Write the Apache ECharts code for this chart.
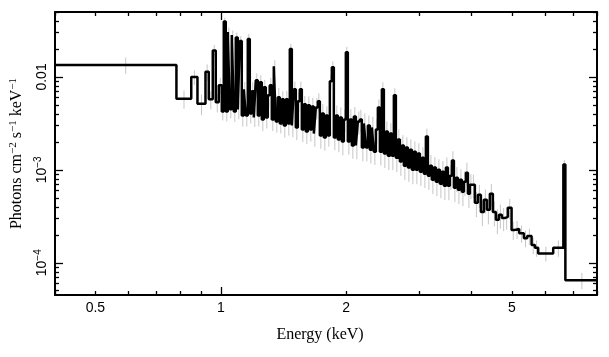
<!DOCTYPE html>
<html>
<head>
<meta charset="utf-8">
<script src="https://cdn.jsdelivr.net/npm/echarts@6/dist/echarts.min.js"></script>
<style>
html,body{margin:0;padding:0;background:#fff;}
#chart{width:609px;height:357px;}
</style>
</head>
<body>
<div id="chart"></div>
<script>
// Energy bin edges (keV)
var binEdges = [0.4, 0.7826, 0.8494, 0.8791, 0.9189, 0.9358, 0.9567, 0.9727, 0.9890,
  1.00555, 1.01673, 1.02804, 1.03947, 1.05102, 1.06271, 1.07452, 1.08647, 1.09855, 1.11076,
  1.12311, 1.13560, 1.14822, 1.16099, 1.17392, 1.18697, 1.20017, 1.21351, 1.22700, 1.24067,
  1.25447, 1.26842, 1.28252, 1.29678, 1.31121, 1.32579, 1.34053, 1.35543, 1.37050, 1.38577,
  1.40118, 1.41676, 1.43251, 1.44844, 1.46457, 1.48086, 1.49732, 1.51397, 1.53080, 1.54785,
  1.56506, 1.58246, 1.60006, 1.61785, 1.63586, 1.65405, 1.67244, 1.69103, 1.70983, 1.72888,
  1.74810, 1.76754, 1.78719, 1.80706, 1.82718, 1.84750, 1.86804, 1.88881, 1.90981, 1.93108,
  1.95255, 1.97426, 1.99621, 2.01840, 2.04088, 2.06357, 2.08652, 2.10972, 2.13317, 2.15692,
  2.18090, 2.20515, 2.22966, 2.25445, 2.27957, 2.30492, 2.33054, 2.35645, 2.38265, 2.40919,
  2.43598, 2.46306, 2.49045, 2.51814, 2.54618, 2.57449, 2.60311, 2.63205, 2.66132, 2.69095,
  2.72087, 2.75112, 2.78171, 2.81264, 2.84396, 2.87558, 2.90755, 2.93988, 2.97256, 3.00567,
  3.03909, 3.07288, 3.10704, 3.14159, 3.17657, 3.21189, 3.24760, 3.28371, 3.32022, 3.35720,
  3.39453, 3.43227, 3.47043, 3.50902, 3.54809, 3.58754, 3.62743, 3.66776, 3.70854, 3.74983,
  3.79152, 3.83368, 3.87630, 3.91940, 3.96305,
  4.0061, 4.0731, 4.1412, 4.2105, 4.2809, 4.3525, 4.4252, 4.4992, 4.5745, 4.6510,
  4.7288, 4.8211, 4.8883, 4.9894, 5.0812, 5.2035, 5.3406, 5.4389, 5.5728, 5.6754,
  5.7799, 6.2798, 6.643, 6.717, 8.0];

// Flux per bin (photons cm^-2 s^-1 keV^-1)
var flux = [0.01348, 0.00584, 0.0100, 0.00516, 0.01138, 0.00574, 0.0192, 0.00533, 0.00813,
  0.00426, 0.0395, 0.00426, 0.0304, 0.00448, 0.0282, 0.00426, 0.0265, 0.00448, 0.0243,
  0.00385, 0.00736, 0.00385, 0.0256, 0.00405, 0.00701, 0.00367, 0.00921, 0.00385, 0.00876,
  0.00349, 0.00774, 0.00367, 0.00634, 0.00813, 0.00349, 0.01305, 0.00332, 0.00603, 0.00316,
  0.00574, 0.00300, 0.00574, 0.00316, 0.01993, 0.00300, 0.00736, 0.00286, 0.00546, 0.00736,
  0.00272, 0.00507, 0.00259, 0.00495, 0.00272, 0.00482, 0.00246, 0.00470, 0.00546, 0.00234,
  0.00405, 0.00223, 0.00385, 0.00234, 0.00898, 0.01273, 0.00223, 0.00385, 0.00212, 0.00367,
  0.00202, 0.00349, 0.01849, 0.00202, 0.00349, 0.00183, 0.00376, 0.00183, 0.00332, 0.00349,
  0.00174, 0.00316, 0.00174, 0.00300, 0.00165, 0.00286, 0.00157, 0.00272, 0.00470, 0.00157,
  0.00736, 0.00150, 0.00259, 0.00142, 0.00246, 0.00142, 0.00634, 0.00135, 0.00212, 0.00123,
  0.00183, 0.00111, 0.00174, 0.00106, 0.00165, 0.00100, 0.00157, 0.00100, 0.00150, 0.000956,
  0.00135, 0.000910, 0.00228, 0.000866, 0.00111, 0.000783, 0.00106, 0.000745, 0.00100, 0.000709,
  0.000956, 0.000674, 0.00106, 0.000674, 0.000866, 0.00126, 0.000642, 0.000823, 0.000610, 0.000783,
  0.000581, 0.000745, 0.000933, 0.000553,
  0.000692,
  0.000692, 0.000442, 0.000539, 0.000353, 0.000476, 0.000371, 0.000553, 0.000353, 0.000290, 0.000328,
  0.000304, 0.000312, 0.000390, 0.000226, 0.000231, 0.000208, 0.000184, 0.000194, 0.000155, 0.000145,
  0.000126, 0.000145, 0.00114, 0.0000650];

// Relative 1-sigma error per bin
var relErr = [0.2, 0.22, 0.18, 0.25, 0.2, 0.22, 0.15, 0.22, 0.2,
  0.2, 0.1, 0.22, 0.12, 0.2, 0.12, 0.23, 0.13, 0.22, 0.13,
  0.24, 0.2, 0.24, 0.13, 0.22, 0.25, 0.21, 0.19, 0.24, 0.19,
  0.25, 0.2, 0.24, 0.26, 0.2, 0.25, 0.16, 0.24, 0.26, 0.22,
  0.22, 0.26, 0.23, 0.26, 0.14, 0.25, 0.21, 0.27, 0.24, 0.21,
  0.27, 0.23, 0.27, 0.25, 0.26, 0.24, 0.28, 0.26, 0.22, 0.28,
  0.26, 0.28, 0.26, 0.24, 0.19, 0.16, 0.27, 0.28, 0.27, 0.28,
  0.29, 0.27, 0.14, 0.28, 0.29, 0.28, 0.26, 0.29, 0.28, 0.27,
  0.29, 0.28, 0.29, 0.28, 0.29, 0.3, 0.28, 0.29, 0.22, 0.29,
  0.19, 0.3, 0.28, 0.3, 0.29, 0.3, 0.19, 0.3, 0.29, 0.3,
  0.29, 0.3, 0.29, 0.3, 0.29, 0.3, 0.29, 0.3, 0.29, 0.3,
  0.3, 0.3, 0.22, 0.3, 0.3, 0.3, 0.3, 0.3, 0.3, 0.3,
  0.3, 0.3, 0.28, 0.3, 0.3, 0.26, 0.3, 0.3, 0.3, 0.3,
  0.3, 0.3, 0.28, 0.3,
  0.3,
  0.28, 0.3, 0.28, 0.3, 0.29, 0.3, 0.27, 0.3, 0.3, 0.29,
  0.28, 0.27, 0.25, 0.22, 0.22, 0.21, 0.2, 0.2, 0.2, 0.2,
  0.18, 0.2, 0.12, 0.2];

// Axis ticks
var xLabelTicks = [0.5, 1, 2, 5];
var xMajorTicks = [1];
var xMinorTicks = [0.4, 0.5, 0.6, 0.7, 0.8, 0.9, 2, 3, 4, 5, 6, 7, 8];
var yLabelTicks = [1e-4, 1e-3, 1e-2];
var yMinorTicks = [5e-5, 6e-5, 7e-5, 8e-5, 9e-5,
  2e-4, 3e-4, 4e-4, 5e-4, 6e-4, 7e-4, 8e-4, 9e-4,
  2e-3, 3e-3, 4e-3, 5e-3, 6e-3, 7e-3, 8e-3, 9e-3,
  0.02, 0.03, 0.04, 0.05];
var xRange = [0.4, 8];
var yRange = [4.5e-5, 0.05];

var sansFont = '"Liberation Sans", Arial, Helvetica, sans-serif';
var serifFont = '"Liberation Serif", "Times New Roman", Times, serif';

var n = flux.length;
var stepData = [];
for (var i = 0; i < binEdges.length; i++) {
  stepData.push([binEdges[i], flux[Math.min(i, n - 1)]]);
}
var errData = [];
for (var j = 0; j < n; j++) {
  var ec = (binEdges[j] + binEdges[j + 1]) / 2;
  errData.push([ec, flux[j] * (1 - relErr[j]), flux[j] * (1 + relErr[j])]);
}

function xAxisDef(pos, ticks, len, showLine, labels) {
  return {
    type: 'log', logBase: 10, min: xRange[0], max: xRange[1], position: pos,
    axisLine: { show: showLine, lineStyle: { color: '#000', width: 2 } },
    axisTick: { show: true, inside: true, length: len, customValues: ticks,
      lineStyle: { color: '#000', width: 1.3 } },
    axisLabel: labels ? {
      show: true, customValues: xLabelTicks, color: '#000', fontSize: 14,
      fontFamily: sansFont, margin: 6,
      formatter: function (v) { return String(+v.toPrecision(3)); }
    } : { show: false },
    splitLine: { show: false }, minorTick: { show: false }, minorSplitLine: { show: false }
  };
}
function yAxisDef(pos, ticks, len, showLine, labels) {
  return {
    type: 'log', logBase: 10, min: yRange[0], max: yRange[1], position: pos,
    axisLine: { show: showLine, lineStyle: { color: '#000', width: 2 } },
    axisTick: { show: true, inside: true, length: len, customValues: ticks,
      lineStyle: { color: '#000', width: 1.3 } },
    axisLabel: labels ? {
      show: true, customValues: yLabelTicks, rotate: 90, margin: 6,
      formatter: function (v) {
        var e = Math.round(Math.log10(v));
        if (e === -2) return '{n|0.01}';
        return '{n|10}{s|\u2212' + (-e) + '}';
      },
      rich: {
        n: { fontSize: 14, fontFamily: sansFont, color: '#000', lineHeight: 16, verticalAlign: 'bottom' },
        s: { fontSize: 10, fontFamily: sansFont, color: '#000', lineHeight: 10, verticalAlign: 'top' }
      }
    } : { show: false },
    splitLine: { show: false }, minorTick: { show: false }, minorSplitLine: { show: false }
  };
}

var xAxes = [
  xAxisDef('bottom', xMajorTicks, 8, true, true),
  xAxisDef('bottom', xMinorTicks, 4, false, false),
  xAxisDef('top', xMajorTicks, 8, true, false),
  xAxisDef('top', xMinorTicks, 4, false, false)
];
xAxes[0].name = 'Energy (keV)';
xAxes[0].nameLocation = 'middle';
xAxes[0].nameGap = 32;
xAxes[0].nameTextStyle = { fontFamily: serifFont, fontSize: 16, color: '#000', padding: [0, 12, 0, 0] };

var yAxes = [
  yAxisDef('left', yLabelTicks, 8, true, true),
  yAxisDef('left', yMinorTicks, 4, false, false),
  yAxisDef('right', yLabelTicks, 8, true, false),
  yAxisDef('right', yMinorTicks, 4, false, false)
];
yAxes[0].name = '{t|Photons cm}{s|\u22122}{t| s}{s|\u22121}{t| keV}{s|\u22121}';
yAxes[0].nameLocation = 'middle';
yAxes[0].nameRotate = 90;
yAxes[0].nameGap = 29;
yAxes[0].nameTextStyle = {
  rich: {
    t: { fontFamily: serifFont, fontSize: 16, color: '#000', lineHeight: 17, verticalAlign: 'bottom' },
    s: { fontFamily: serifFont, fontSize: 11, color: '#000', lineHeight: 11, verticalAlign: 'top' }
  }
};

var chart = echarts.init(document.getElementById('chart'), null, { renderer: 'canvas' });
chart.setOption({
  animation: false,
  backgroundColor: '#fff',
  grid: { left: 55, right: 12, top: 12, bottom: 62, containLabel: false, outerBoundsMode: 'none' },
  xAxis: xAxes,
  yAxis: yAxes,
  series: [
    {
      type: 'custom',
      xAxisIndex: 0, yAxisIndex: 0,
      data: errData,
      encode: { x: 0, y: [1, 2] },
      z: 1,
      silent: true,
      renderItem: function (params, api) {
        var p1 = api.coord([api.value(0), api.value(1)]);
        var p2 = api.coord([api.value(0), api.value(2)]);
        return {
          type: 'line',
          shape: { x1: p1[0], y1: p1[1], x2: p2[0], y2: p2[1] },
          style: { stroke: '#c6c6c6', lineWidth: 1 }
        };
      }
    },
    {
      type: 'line',
      xAxisIndex: 0, yAxisIndex: 0,
      step: 'end',
      data: stepData,
      showSymbol: false,
      symbol: 'none',
      z: 2,
      lineStyle: { color: '#000', width: 2.5 }
    }
  ]
});
</script>
</body>
</html>
